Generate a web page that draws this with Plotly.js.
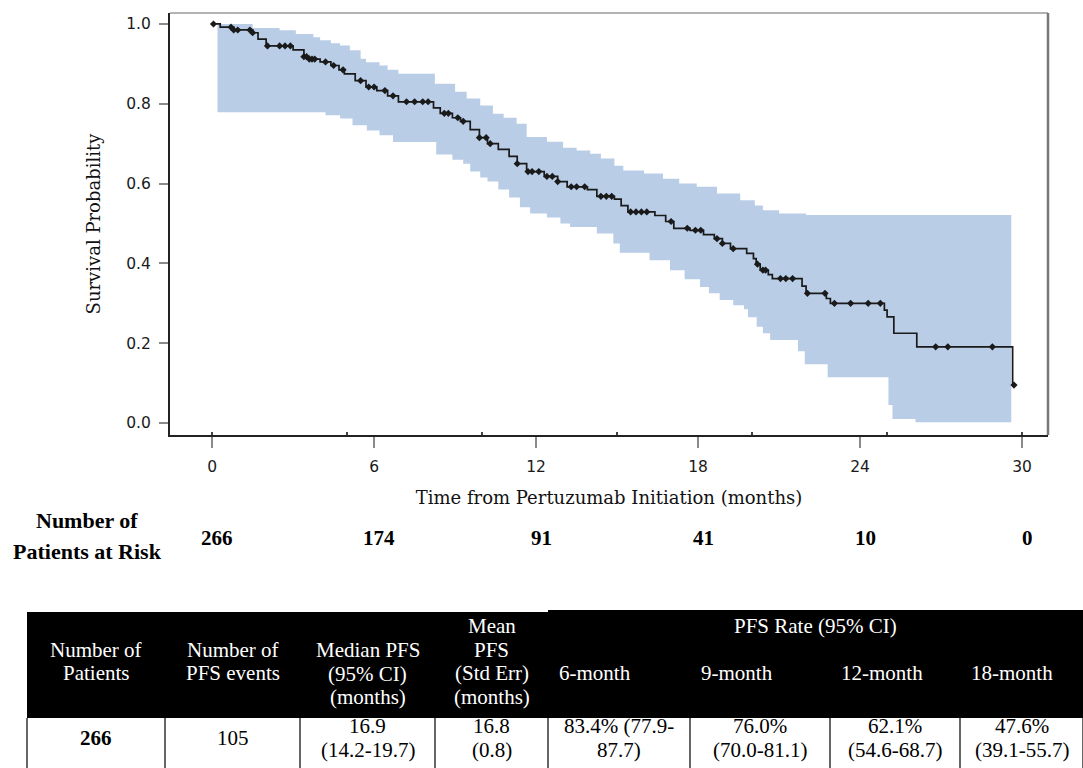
<!DOCTYPE html>
<html><head><meta charset="utf-8">
<script src="https://cdn.plot.ly/plotly-3.0.1.min.js"></script>
<style>html,body{margin:0;padding:0;background:#fff;} #chart{width:1083px;height:768px;}</style>
</head><body><div id="chart"></div>
<script>
// ---- Kaplan-Meier estimate (months, survival probability) ----
const kmTime = [0, 0.3, 0.8, 1.5, 1.7, 2.0, 3.0, 3.4, 3.6, 4.0, 4.4, 4.7, 4.9, 5.3, 5.7, 6.1, 6.5, 6.9, 8.2, 8.45, 8.9, 9.2, 9.56, 9.9, 10.2, 10.6, 11.0, 11.3, 11.65, 12.3, 12.8, 13.15, 13.9, 14.25, 14.9, 15.15, 15.4, 16.4, 16.8, 17.1, 17.7, 18.2, 18.6, 18.9, 19.2, 19.8, 20.05, 20.15, 20.3, 20.6, 20.75, 21.85, 22.0, 22.75, 22.9, 24.9, 25.0, 25.25, 26.1, 29.65];
const kmSurv = [1.000, 0.992, 0.985, 0.978, 0.962, 0.945, 0.935, 0.918, 0.912, 0.905, 0.896, 0.885, 0.875, 0.858, 0.842, 0.833, 0.820, 0.805, 0.790, 0.776, 0.765, 0.756, 0.735, 0.715, 0.700, 0.686, 0.668, 0.650, 0.630, 0.618, 0.605, 0.592, 0.585, 0.568, 0.561, 0.545, 0.529, 0.520, 0.505, 0.488, 0.483, 0.472, 0.462, 0.450, 0.437, 0.425, 0.412, 0.398, 0.383, 0.372, 0.362, 0.343, 0.325, 0.312, 0.300, 0.283, 0.266, 0.225, 0.191, 0.095];
// censored observations (months)
const censorTime = [0.05, 0.7, 0.8, 0.95, 1.4, 1.5, 2.05, 2.5, 2.7, 2.9, 3.4, 3.5, 3.6, 3.7, 3.8, 4.2, 4.5, 4.85, 5.5, 5.8, 6.0, 6.4, 6.7, 7.2, 7.5, 7.8, 8.0, 8.6, 8.75, 9.1, 9.3, 9.9, 10.15, 10.3, 11.3, 11.7, 11.85, 12.1, 12.4, 12.6, 12.8, 13.3, 13.5, 13.8, 14.4, 14.6, 14.8, 15.5, 15.7, 15.9, 16.1, 17.0, 17.6, 17.9, 18.1, 18.7, 18.9, 19.3, 20.2, 20.4, 20.5, 21.05, 21.25, 21.5, 22.05, 22.7, 23.05, 23.65, 24.3, 24.75, 26.8, 27.25, 28.9, 29.7];
// 95% confidence band
const ciUpperTime = [0.2, 1.5, 2.5, 3.1, 3.75, 4.0, 4.4, 4.74, 5.1, 5.5, 5.7, 6.2, 6.5, 6.9, 8.25, 9.0, 9.43, 9.93, 10.4, 10.8, 11.28, 11.65, 12.4, 13.0, 13.5, 14.0, 14.4, 14.9, 15.23, 16.0, 16.7, 17.3, 17.95, 18.7, 19.56, 20.1, 20.4, 21.0, 22.0, 29.6];
const ciUpper = [1.0, 0.99, 0.984, 0.975, 0.967, 0.959, 0.952, 0.946, 0.934, 0.913, 0.904, 0.896, 0.885, 0.875, 0.85, 0.83, 0.813, 0.796, 0.775, 0.765, 0.75, 0.717, 0.705, 0.69, 0.683, 0.675, 0.663, 0.645, 0.633, 0.625, 0.612, 0.6, 0.592, 0.575, 0.558, 0.545, 0.533, 0.525, 0.521, 0.521];
const ciLowerTime = [0.2, 4.2, 4.74, 5.2, 5.73, 6.2, 6.7, 8.3, 8.9, 9.3, 9.56, 9.93, 10.2, 10.6, 11.0, 11.4, 11.78, 12.4, 12.9, 13.26, 14.25, 14.86, 15.1, 16.2, 16.96, 17.5, 18.07, 18.4, 18.8, 19.3, 19.7, 19.85, 20.17, 20.4, 20.67, 21.7, 21.95, 22.8, 25.05, 25.2, 26.05, 29.6];
const ciLower = [0.779, 0.771, 0.763, 0.746, 0.733, 0.721, 0.704, 0.673, 0.66, 0.65, 0.63, 0.615, 0.605, 0.585, 0.565, 0.541, 0.525, 0.515, 0.5, 0.491, 0.475, 0.45, 0.427, 0.408, 0.383, 0.36, 0.341, 0.325, 0.308, 0.295, 0.285, 0.265, 0.241, 0.225, 0.208, 0.18, 0.147, 0.115, 0.045, 0.01, 0.002, 0.002];
// axes
const xTicks = [0, 6, 12, 18, 24, 30];
const yTicks = [0, 0.2, 0.4, 0.6, 0.8, 1.0];
const yTickText = ['0.0', '0.2', '0.4', '0.6', '0.8', '1.0'];
// number at risk
const riskTimes = [0, 6, 12, 18, 24, 30];
const riskCounts = [266, 174, 91, 41, 10, 0];
const riskLabel = 'Number of<br>Patients at Risk';
// summary table
const tableHeader = ['Number of<br>Patients', 'Number of<br>PFS events', 'Median PFS<br>(95% CI)<br>(months)', 'Mean<br>PFS<br>(Std Err)<br>(months)'];
const rateGroupLabel = 'PFS Rate (95% CI)';
const rateHeader = ['6-month', '9-month', '12-month', '18-month'];
const tableRow = ['266', '105', '16.9<br>(14.2-19.7)', '16.8<br>(0.8)', '83.4% (77.9-<br>87.7)', '76.0%<br>(70.0-81.1)', '62.1%<br>(54.6-68.7)', '47.6%<br>(39.1-55.7)'];

// ---- layout geometry (pixels) ----
const W = 1083, H = 768;
const M = {l: 170, r: 35, t: 13, b: 333};
const PW = W - M.l - M.r, PH = H - M.t - M.b;
const px2x = p => (p - M.l) / PW;
const py2y = p => (H - M.b - p) / PH;

function stepAt(t) {
  let v = kmSurv[0];
  for (let i = 0; i < kmTime.length; i++) { if (kmTime[i] <= t) v = kmSurv[i]; }
  return v;
}

const traces = [
  {x: ciUpperTime, y: ciUpper, mode: 'lines', line: {shape: 'hv', width: 0, color: 'rgba(0,0,0,0)'}, hoverinfo: 'skip', showlegend: false},
  {x: ciLowerTime, y: ciLower, mode: 'lines', line: {shape: 'hv', width: 0, color: 'rgba(0,0,0,0)'}, fill: 'tonexty', fillcolor: '#b9cde6', hoverinfo: 'skip', showlegend: false},
  {x: kmTime, y: kmSurv, mode: 'lines', line: {shape: 'hv', width: 1.7, color: '#1a1a1a'}, showlegend: false},
  {x: censorTime, y: censorTime.map(stepAt), mode: 'markers', marker: {symbol: 'diamond', size: 5.5, color: '#1a1a1a'}, showlegend: false}
];

const serif = 'Liberation Serif, Times New Roman, serif';
const annotations = [];
// at-risk numbers, aligned with x axis positions
riskTimes.forEach((t, i) => annotations.push({xref: 'x', yref: 'paper', x: t, y: py2y(538), text: '<b>' + riskCounts[i] + '</b>', showarrow: false, xanchor: 'center', yanchor: 'middle', xshift: 5, font: {family: serif, size: 21, color: '#000'}}));
riskLabel.split('<br>').forEach((s, i) => annotations.push({xref: 'paper', yref: 'paper', x: px2x(87), y: py2y(520 + i * 31), text: '<b>' + s + '</b>', showarrow: false, xanchor: 'center', yanchor: 'middle', font: {family: serif, size: 22, color: '#000'}}));

// table geometry
const colB = [27, 165, 300, 435, 548, 690, 830, 960, 1083];
const hdrTop = 612, hdrBot = 718, rowBot = 768;
const lineGap = 23.5;
const tFont = {family: serif, size: 21, color: '#fff'};
function addLines(text, cx, cy, font, anchor) {
  const parts = text.split('<br>');
  const y0 = cy - (parts.length - 1) * lineGap / 2;
  parts.forEach((s, i) => annotations.push({xref: 'paper', yref: 'paper', x: px2x(cx), y: py2y(y0 + i * lineGap), text: s, showarrow: false, xanchor: anchor || 'center', yanchor: 'middle', font: font}));
}
tableHeader.forEach((h, i) => {
  const n = h.split('<br>').length;
  const cy = n === 3 ? 673.5 : 661.5;
  addLines(h, (colB[i] + colB[i + 1]) / 2, cy, tFont);
});
addLines(rateGroupLabel, (colB[4] + colB[8]) / 2, 626, tFont);
rateHeader.forEach((h, i) => addLines(h, colB[4 + i] + 9, 673, tFont, 'left'));
tableRow.forEach((c, i) => {
  const f = {family: serif, size: 21, color: '#000'};
  addLines(i === 0 ? '<b>' + c + '</b>' : c, (colB[i] + colB[i + 1]) / 2, 738, f);
});

const shapes = [
  {type: 'line', xref: 'x domain', yref: 'y domain', x0: 0, x1: 1, y0: 1, y1: 1, line: {color: '#9a9a9a', width: 1.5}},
  {type: 'line', xref: 'x domain', yref: 'y domain', x0: 1, x1: 1, y0: 0, y1: 1, line: {color: '#777', width: 2.5}},
  {type: 'rect', xref: 'paper', yref: 'paper', x0: px2x(colB[0]), x1: px2x(colB[4]), y0: py2y(hdrBot), y1: py2y(hdrTop), fillcolor: '#000', line: {width: 0}},
  {type: 'rect', xref: 'paper', yref: 'paper', x0: px2x(colB[4]), x1: px2x(colB[8]), y0: py2y(hdrBot), y1: py2y(hdrTop - 2), fillcolor: '#000', line: {width: 0}}
];
colB.forEach(b => shapes.push({type: 'line', xref: 'paper', yref: 'paper', x0: px2x(b), x1: px2x(b), y0: py2y(hdrBot), y1: py2y(rowBot), line: {color: '#000', width: 1.2}}));

const layout = {
  width: W, height: H,
  margin: M,
  paper_bgcolor: '#fff', plot_bgcolor: '#fff',
  showlegend: false,
  xaxis: {
    range: [-1.56, 30.96], tickvals: xTicks, ticks: 'outside', ticklen: 11, tickwidth: 2, tickcolor: '#8a8a8a',
    showline: true, linecolor: '#222', linewidth: 2, showgrid: false, zeroline: false,
    minor: {tick0: 0, dtick: 5, ticks: 'inside', ticklen: 3, tickwidth: 1.5, tickcolor: '#444', showgrid: false},
    tickfont: {family: 'DejaVu Sans', size: 15.5, color: '#1a1a1a'}, ticklabelstandoff: 5,
    title: {text: 'Time from Pertuzumab Initiation (months)', font: {family: 'DejaVu Serif', size: 18, color: '#111'}, standoff: 17}
  },
  yaxis: {
    range: [-0.03, 1.0275], tickvals: yTicks, ticktext: yTickText, ticks: 'outside', ticklen: 9, tickwidth: 2, tickcolor: '#8a8a8a',
    showline: true, linecolor: '#222', linewidth: 2, showgrid: false, zeroline: false,
    tickfont: {family: 'DejaVu Sans', size: 15.5, color: '#1a1a1a'}, ticklabelstandoff: 5,
    title: {text: 'Survival Probability', font: {family: 'DejaVu Serif', size: 18, color: '#111'}, standoff: 21}
  },
  annotations: annotations,
  shapes: shapes
};

Plotly.newPlot('chart', traces, layout, {displayModeBar: false, staticPlot: true});
</script>
</body></html>
